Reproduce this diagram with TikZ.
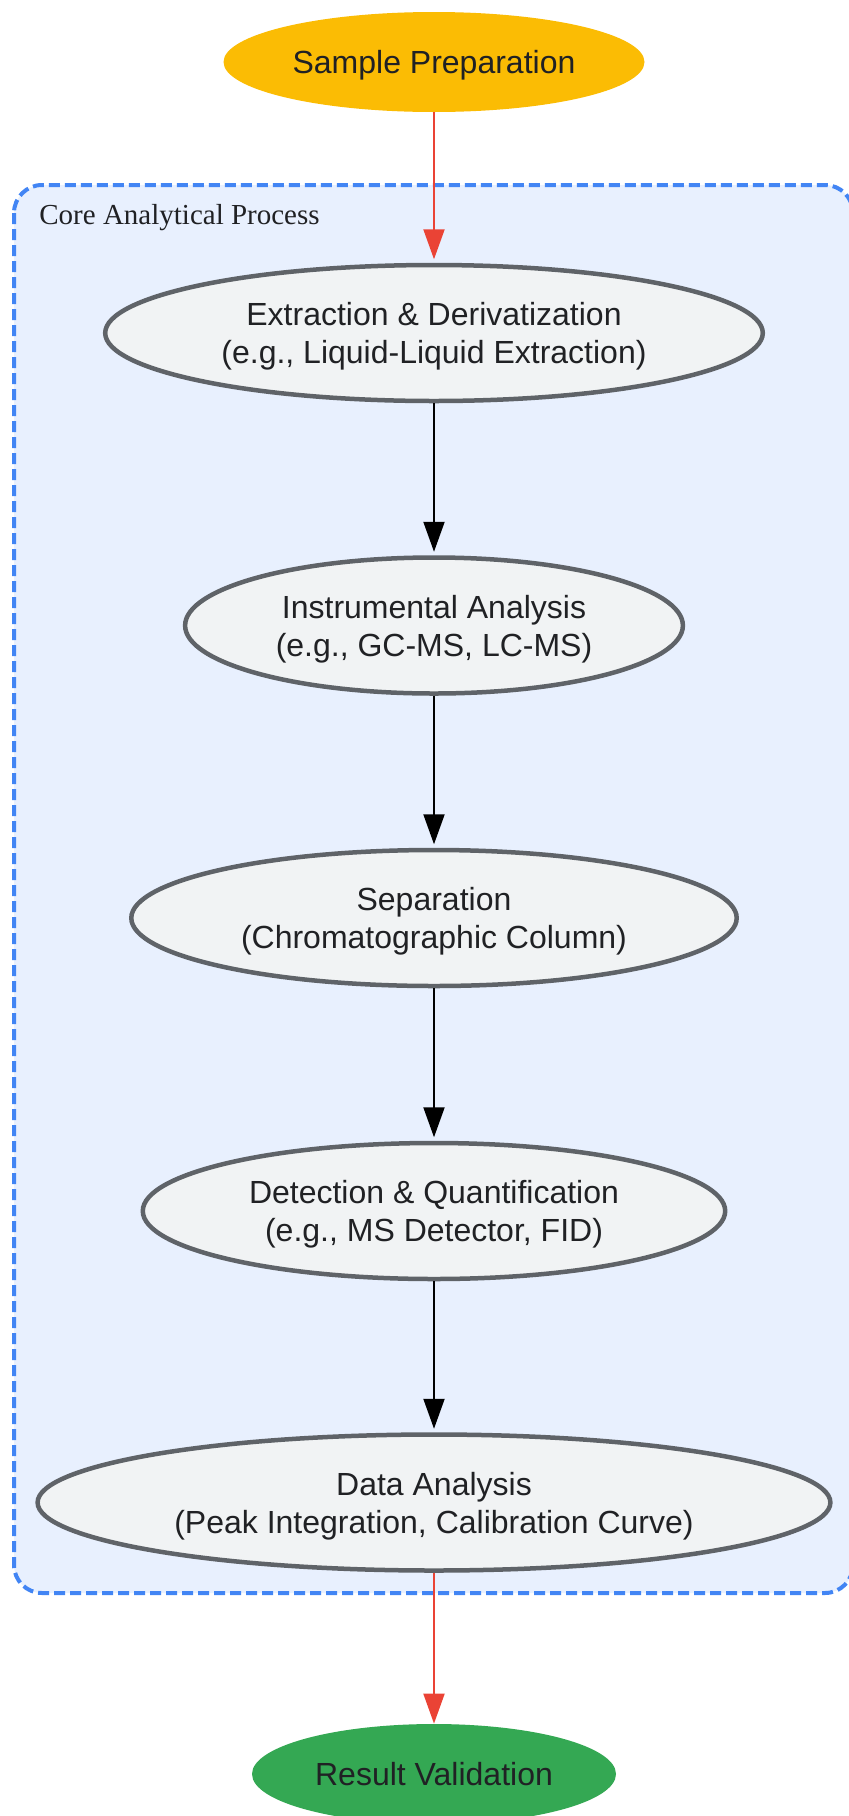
\documentclass[tikz,border=0pt]{standalone}
\usepackage{fontspec}
\setmainfont{Liberation Sans}
\newfontfamily\titolofont{Liberation Serif}
\usetikzlibrary{arrows.meta,shapes.geometric}
\definecolor{giallo}{HTML}{FBBC04}
\definecolor{verde}{HTML}{34A853}
\definecolor{rosso}{HTML}{EA4335}
\definecolor{blu}{HTML}{4285F4}
\definecolor{azzurro}{HTML}{E8F0FE}
\definecolor{bordo}{HTML}{5F6368}
\definecolor{sfondo}{HTML}{F1F3F4}
\definecolor{testo}{HTML}{202124}
\tikzset{
>={Triangle[length=15pt,width=10.5pt]},
main node/.style={ellipse,draw=bordo,line width=2.25pt,fill=sfondo,text=testo,align=center,inner sep=0pt,text depth=0pt,minimum height=68pt},
estremo/.style={ellipse,inner sep=0pt,text depth=0pt,minimum height=50pt,text=testo},
gruppo/.style={draw=blu,fill=azzurro,line width=2pt,dash pattern=on 5.5pt off 2.5pt,rounded corners=14pt},
freccia/.style={->,line width=1pt,shorten >=1.75pt},
freccia rossa/.style={freccia,color=rosso}}

\begin{document}
\begin{tikzpicture}[x=0.5pt,y=-0.5pt,font=\fontsize{16pt}{19pt}\selectfont]

\useasboundingbox (0,0) rectangle (848,1816);

% cluster
\draw[gruppo] (14,185) rectangle (853,1593);
\node[anchor=west,inner sep=0pt,text=testo,font=\titolofont\fontsize{14.5pt}{17pt}\selectfont] (titolo) at (39,217.5) {Core Analytical Process};

\node[estremo,fill=giallo,minimum width=210.5pt] (prep) at (434,62) {Sample Preparation};
\node[main node,minimum width=328.8pt] (estr) at (434,333) {Extraction \& Derivatization\\(e.g., Liquid-Liquid Extraction)};
\node[main node,minimum width=248.9pt] (strum) at (434,625.5) {Instrumental Analysis\\(e.g., GC-MS, LC-MS)};
\node[main node,minimum width=302.7pt] (sep) at (434,918) {Separation\\(Chromatographic Column)};
\node[main node,minimum width=291.2pt] (riv) at (434,1211) {Detection \& Quantification\\(e.g., MS Detector, FID)};
\node[main node,minimum width=396.4pt] (dati) at (434,1502.5) {Data Analysis\\(Peak Integration, Calibration Curve)};
\node[estremo,fill=verde,minimum width=182pt] (valid) at (434,1774) {Result Validation};

\path[freccia rossa] (prep) edge (estr);
\path[freccia] (estr) edge (strum);
\path[freccia] (strum) edge (sep);
\path[freccia] (sep) edge (riv);
\path[freccia] (riv) edge (dati);
\path[freccia rossa,shorten >=0pt] (dati) edge (valid);

\end{tikzpicture}
\end{document}
